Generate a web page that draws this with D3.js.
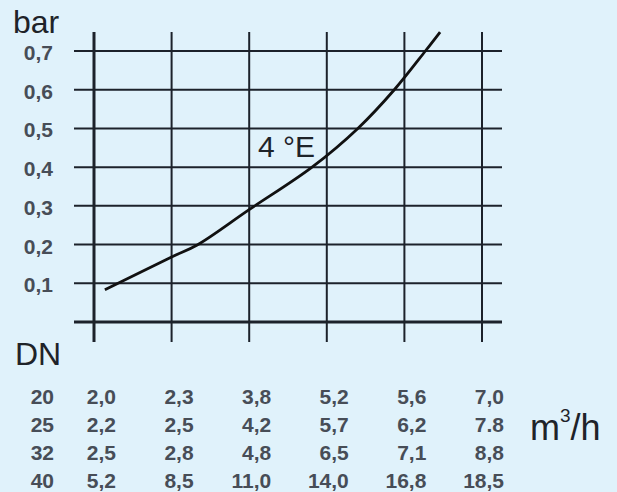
<!DOCTYPE html>
<html>
<head>
<meta charset="utf-8">
<script src="https://cdn.jsdelivr.net/npm/d3@7"></script>
<style>
    body { margin: 0; background: #e0f2fb; }
    svg { display: block; }
</style>
</head>
<body>
<div id="chart"></div>
<script>
// pressure drop curve, x in column units (0 = first DN column)
const curveX = [0.14, 1.0, 1.33, 1.99, 2.81, 3.40, 3.87, 4.27, 4.46]
const curveY = [0.083, 0.168, 0.199, 0.289, 0.400, 0.500, 0.600, 0.700, 0.749]

const yTicks = [0.1, 0.2, 0.3, 0.4, 0.5, 0.6, 0.7]
const columns = [0, 1, 2, 3, 4, 5]

const dnSizes = ["20", "25", "32", "40"]
const flowDN20 = ["2,0", "2,3", "3,8", "5,2", "5,6", "7,0"]
const flowDN25 = ["2,2", "2,5", "4,2", "5,7", "6,2", "7.8"]
const flowDN32 = ["2,5", "2,8", "4,8", "6,5", "7,1", "8,8"]
const flowDN40 = ["5,2", "8,5", "11,0", "14,0", "16,8", "18,5"]
const flowRows = [flowDN20, flowDN25, flowDN32, flowDN40]

const width = 617
const height = 492
const ink = "#1c222b"
const numInk = "#474d57"
const font = "Liberation Sans, Arial, sans-serif"

const svg = d3.select("#chart")
    .append("svg")
    .attr("width", width)
    .attr("height", height)

svg.append("rect")
    .attr("width", width)
    .attr("height", height)
    .attr("fill", "#e0f2fb")

const xScale = d3.scaleLinear()
    .domain([0, 5])
    .range([94, 482])

const yScale = d3.scaleLinear()
    .domain([0, 0.7])
    .range([322, 51])

// horizontal grid
svg.append("g")
    .selectAll("line")
    .data([0].concat(yTicks))
    .join("line")
    .attr("x1", 74)
    .attr("x2", 502)
    .attr("y1", d => yScale(d))
    .attr("y2", d => yScale(d))
    .attr("stroke", ink)
    .attr("stroke-width", d => d === 0 ? 3 : 2)

// vertical grid, running down past the base as ticks
svg.append("g")
    .selectAll("line")
    .data(columns)
    .join("line")
    .attr("x1", d => xScale(d))
    .attr("x2", d => xScale(d))
    .attr("y1", 32)
    .attr("y2", 342)
    .attr("stroke", ink)
    .attr("stroke-width", d => d === 0 ? 3 : 2)

// y labels
svg.append("g")
    .selectAll("text")
    .data(yTicks)
    .join("text")
    .attr("x", 53)
    .attr("y", d => yScale(d) + 9)
    .attr("text-anchor", "end")
    .attr("font-family", font)
    .attr("font-weight", "bold")
    .attr("font-size", 21)
    .attr("fill", numInk)
    .text(d => d3.format(".1f")(d).replace(".", ","))

const line = d3.line()
    .x(d => xScale(d[0]))
    .y(d => yScale(d[1]))
    .curve(d3.curveCatmullRom)

svg.append("path")
    .datum(d3.zip(curveX, curveY))
    .attr("d", line)
    .attr("fill", "none")
    .attr("stroke", "#111")
    .attr("stroke-width", 2.8)

const big = "#1e2329"

svg.append("text")
    .attr("x", 13)
    .attr("y", 33)
    .attr("font-family", font)
    .attr("font-size", 32)
    .attr("fill", big)
    .text("bar")

svg.append("text")
    .attr("x", 258)
    .attr("y", 157)
    .attr("font-family", font)
    .attr("font-size", 30)
    .attr("fill", big)
    .text("4 °E")

svg.append("text")
    .attr("x", 15)
    .attr("y", 365)
    .attr("font-family", font)
    .attr("font-size", 32)
    .attr("fill", big)
    .text("DN")

const unit = svg.append("text")
    .attr("x", 530)
    .attr("y", 440)
    .attr("font-family", font)
    .attr("font-size", 36)
    .attr("fill", big)
unit.append("tspan").text("m")
unit.append("tspan")
    .attr("font-size", 19)
    .attr("dy", -18)
    .text("3")
unit.append("tspan")
    .attr("dy", 18)
    .text("/h")

// flow table
const rowY = i => 404 + i * 28

svg.append("g")
    .selectAll("text")
    .data(dnSizes)
    .join("text")
    .attr("x", 54)
    .attr("y", (d, i) => rowY(i))
    .attr("text-anchor", "end")
    .attr("font-family", font)
    .attr("font-weight", "bold")
    .attr("font-size", 21)
    .attr("fill", numInk)
    .text(d => d)

flowRows.forEach((row, i) => {
    svg.append("g")
        .selectAll("text")
        .data(row)
        .join("text")
        .attr("x", (d, j) => xScale(columns[j]) + 22)
        .attr("y", rowY(i))
        .attr("text-anchor", "end")
        .attr("font-family", font)
        .attr("font-weight", "bold")
        .attr("font-size", 21)
        .attr("fill", numInk)
        .text(d => d)
})
</script>
</body>
</html>
